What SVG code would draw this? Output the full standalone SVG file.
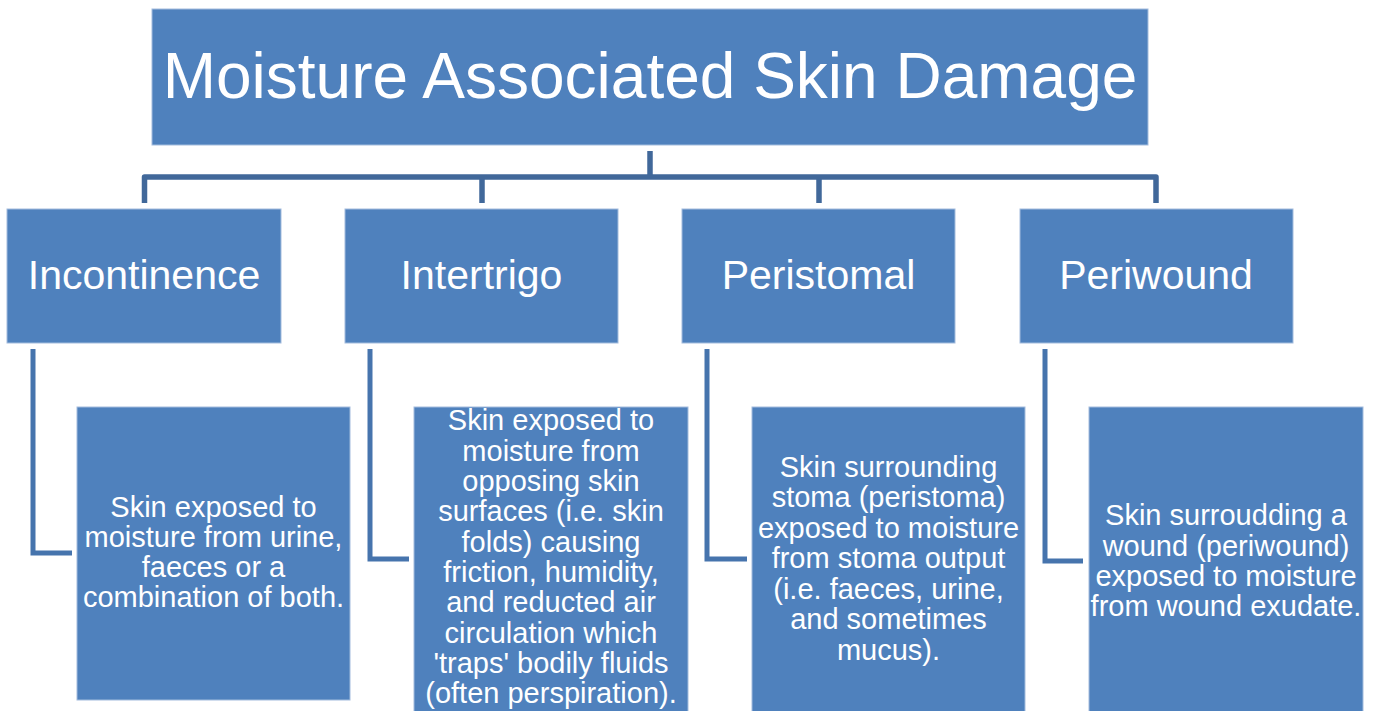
<svg xmlns="http://www.w3.org/2000/svg" width="1373" height="711" viewBox="0 0 1373 711">
<style>
.box{fill:#4F81BD;stroke:#A3BCDD;stroke-width:1}
.t{fill:#fff;font-family:"Liberation Sans",Arial,sans-serif;text-anchor:middle}
.tree{fill:none;stroke:#41689A;stroke-width:5.5;stroke-linejoin:round}
.elb{fill:none;stroke:#4674AD;stroke-width:5}
</style>
<rect width="1373" height="711" fill="#fff"/>
<g id="connectors">
<path class="tree" d="M650,151V177M144.5,203V177H1156V203M482,177V203M819,177V203"/>
<path class="elb" d="M33,349V553H72"/>
<path class="elb" d="M370,349V559H409"/>
<path class="elb" d="M707,349V559H747"/>
<path class="elb" d="M1045,349V561H1083"/>
</g>
<g id="root">
<rect class="box" x="152" y="9" width="996" height="136"/>
<text class="t" x="650" y="98" font-size="64">Moisture Associated Skin Damage</text>
</g>
<g id="incontinence">
<rect class="box" x="7" y="209" width="274" height="134"/>
<text class="t" x="144" y="289" font-size="41">Incontinence</text>
</g>
<g id="intertrigo">
<rect class="box" x="345" y="209" width="273" height="134"/>
<text class="t" x="481.5" y="289" font-size="41">Intertrigo</text>
</g>
<g id="peristomal">
<rect class="box" x="682" y="209" width="273" height="134"/>
<text class="t" x="818.5" y="289" font-size="41">Peristomal</text>
</g>
<g id="periwound">
<rect class="box" x="1020" y="209" width="273" height="134"/>
<text class="t" x="1156" y="289" font-size="41">Periwound</text>
</g>
<g id="incontinence-desc">
<rect class="box" x="77" y="407" width="273" height="293"/>
<text class="t" font-size="29"><tspan x="213.5" y="517">Skin exposed to</tspan><tspan x="213.5" y="547">moisture from urine,</tspan><tspan x="213.5" y="577">faeces or a</tspan><tspan x="213.5" y="607">combination of both.</tspan></text>
</g>
<g id="intertrigo-desc">
<rect class="box" x="414" y="407" width="274" height="306"/>
<text class="t" font-size="29"><tspan x="551" y="430">Skin exposed to</tspan><tspan x="551" y="460.5">moisture from</tspan><tspan x="551" y="491">opposing skin</tspan><tspan x="551" y="521">surfaces (i.e. skin</tspan><tspan x="551" y="551.5">folds) causing</tspan><tspan x="551" y="582">friction, humidity,</tspan><tspan x="551" y="612">and reducted air</tspan><tspan x="551" y="642.5">circulation which</tspan><tspan x="551" y="673">'traps' bodily fluids</tspan><tspan x="551" y="703">(often perspiration).</tspan></text>
</g>
<g id="peristomal-desc">
<rect class="box" x="752" y="407" width="273" height="306"/>
<text class="t" font-size="29"><tspan x="888.5" y="477">Skin surrounding</tspan><tspan x="888.5" y="507">stoma (peristoma)</tspan><tspan x="888.5" y="538">exposed to moisture</tspan><tspan x="888.5" y="568">from stoma output</tspan><tspan x="888.5" y="599">(i.e. faeces, urine,</tspan><tspan x="888.5" y="629">and sometimes</tspan><tspan x="888.5" y="660">mucus).</tspan></text>
</g>
<g id="periwound-desc">
<rect class="box" x="1089" y="407" width="274" height="306"/>
<text class="t" font-size="29"><tspan x="1226" y="525">Skin surroudding a</tspan><tspan x="1226" y="555.5">wound (periwound)</tspan><tspan x="1226" y="586">exposed to moisture</tspan><tspan x="1226" y="616">from wound exudate.</tspan></text>
</g>
</svg>
